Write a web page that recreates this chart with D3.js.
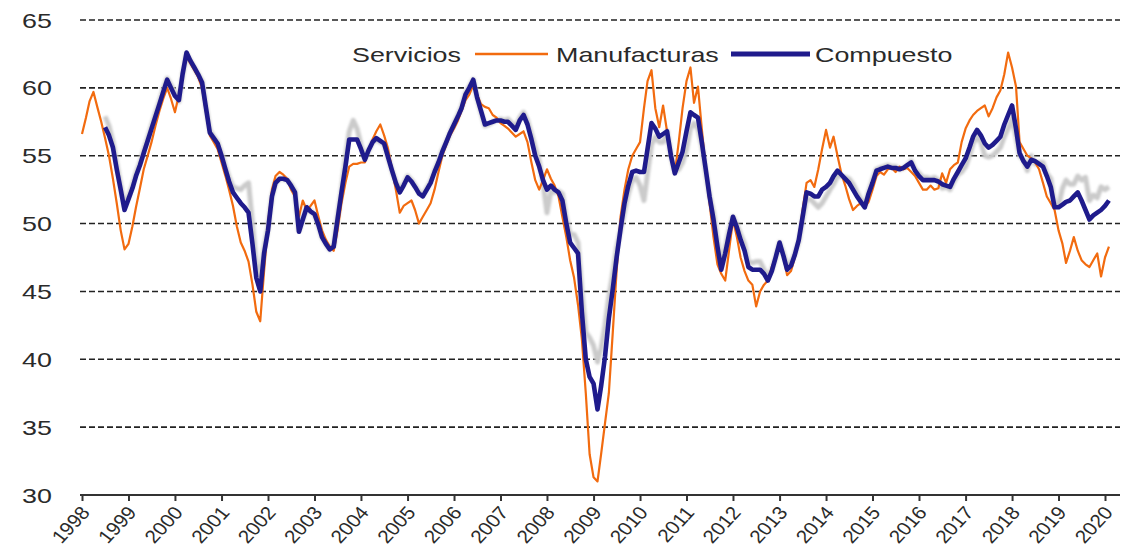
<!DOCTYPE html>
<html>
<head>
<meta charset="utf-8">
<script src="https://cdn.jsdelivr.net/npm/d3@7"></script>
<style>
  html, body { margin: 0; padding: 0; background: #ffffff; }
  svg { display: block; }
  text { font-family: "Liberation Sans", Arial, sans-serif; fill: #2a2a2a; }
</style>
</head>
<body>
<svg id="chart" width="1137" height="557"></svg>
<script>
// ---------------- DATA (monthly PMI readings) ----------------
const seriesNames = ["Servicios", "Manufacturas", "Compuesto"];
const yearLabels = ["1998","1999","2000","2001","2002","2003","2004","2005","2006","2007","2008",
  "2009","2010","2011","2012","2013","2014","2015","2016","2017","2018","2019","2020"];
const yTicks = [30, 35, 40, 45, 50, 55, 60, 65];

const manufacturasStart = "1998-01";
const manufacturas = [
  56.6, 57.8, 59.0, 59.7, 58.6, 57.5, 56.3, 55.0, 53.3, 51.5, 49.5, 48.1,
  48.5, 49.8, 51.2, 52.6, 54.0, 55.0, 56.0, 57.2, 58.3, 59.2, 60.0, 59.2,
  58.2, 59.5, 61.0, 62.3, 61.8, 61.3, 60.8, 60.0, 58.2, 56.5, 56.0, 55.5,
  54.5, 53.5, 52.5, 51.3, 49.8, 48.6, 48.0, 47.2, 45.5, 43.5, 42.8, 46.5,
  50.0, 52.5, 53.5, 53.8, 53.6, 53.3, 52.5, 52.0, 50.5, 51.7, 51.0, 51.3,
  51.7, 50.5, 49.5, 48.8, 48.3, 48.0, 49.5, 51.5, 53.0, 54.2, 54.4, 54.4,
  54.5, 54.5, 55.3, 56.2, 56.8, 57.3, 56.5, 55.5, 54.0, 52.5, 50.8, 51.3,
  51.5, 51.7, 51.0, 50.0, 50.5, 51.0, 51.5, 52.5, 53.8, 55.0, 55.8, 56.5,
  57.0, 57.6, 58.3, 59.1, 59.5, 60.2, 59.5, 58.8, 58.6, 58.5, 58.0, 57.8,
  57.4, 57.2, 57.0, 56.7, 56.4, 56.6, 56.8, 56.0, 54.5, 53.2, 52.5, 53.2,
  54.0, 53.3, 52.8, 52.0, 50.5, 49.0, 47.3, 46.0, 44.0, 41.5, 37.5, 33.0,
  31.3, 31.0, 33.0, 35.3, 37.5, 42.0, 46.5, 50.5, 52.5, 54.0, 55.0, 55.5,
  56.0, 58.5, 60.5, 61.3, 58.5, 57.1, 58.7, 56.8, 55.0, 53.7, 56.0, 58.5,
  60.5, 61.5, 58.9, 60.1, 57.0, 54.0, 51.5, 49.0, 47.0, 46.3, 45.8, 48.0,
  50.3, 49.0, 47.5, 46.5, 45.8, 45.5, 43.9, 45.0, 45.5, 45.8, 46.8, 47.5,
  48.5, 47.5, 46.2, 46.5, 47.5, 49.0, 51.0, 53.0, 53.2, 52.7, 54.0, 55.5,
  56.9, 55.6, 56.4, 55.0, 53.7, 52.8, 51.8, 51.0, 51.3, 51.5, 51.2, 51.6,
  52.5, 53.5, 53.8, 53.6, 54.0, 54.1, 53.8, 54.2, 54.0, 54.1, 53.8, 53.5,
  53.0, 52.5, 52.5, 52.8, 52.5, 52.6, 53.7, 53.0, 54.0, 54.3, 54.5, 56.0,
  57.0, 57.6, 58.0, 58.3, 58.5, 58.7, 57.9, 58.5, 59.3, 59.8, 61.0, 62.6,
  61.5, 60.1, 56.0, 55.5, 55.0, 54.8, 54.5, 54.0, 53.0, 52.0, 51.5, 51.0,
  49.5, 48.5, 47.1, 48.0, 49.0, 48.0, 47.3, 47.0, 46.8, 47.3, 47.8, 46.1,
  47.5, 48.3
];

const compuestoStart = "1998-07";
const compuesto = [
  57.1, 56.5, 55.6, 54.0, 52.5, 51.0,
  51.8, 52.6, 53.5, 54.3, 55.2, 56.1, 57.0, 57.9, 58.8, 59.7, 60.6, 60.0,
  59.4, 59.1, 61.0, 62.6, 62.0, 61.5, 61.0, 60.4, 58.5, 56.7, 56.3, 55.9,
  55.0, 54.0, 53.1, 52.3, 51.9, 51.5, 51.2, 50.8, 48.5, 46.0, 45.0, 47.8,
  49.5, 52.0, 53.0, 53.3, 53.3, 53.2, 52.8, 52.3, 49.4, 50.3, 51.2, 50.9,
  50.7, 49.9, 49.0, 48.5, 48.1, 48.3, 50.3, 52.3, 54.2, 56.2, 56.2, 56.2,
  55.5, 54.7, 55.4, 56.0, 56.3, 56.1, 55.9, 54.9, 53.9, 53.0, 52.3, 52.8,
  53.4, 53.1, 52.7, 52.2, 52.0, 52.5, 53.0, 53.8, 54.5, 55.3, 56.0, 56.7,
  57.3, 57.9, 58.5, 59.5, 60.0, 60.6, 59.3, 58.3, 57.3, 57.4, 57.5, 57.6,
  57.6, 57.5, 57.5, 57.2, 56.9, 57.6, 58.0, 57.3, 56.2, 55.0, 54.2, 53.2,
  52.5, 52.8, 52.5, 52.3, 51.7, 50.0, 48.6, 48.2, 47.8, 43.5, 40.0, 38.7,
  38.2, 36.3, 38.0, 40.2, 43.0, 45.2, 47.5, 49.6, 51.5, 52.8, 53.8, 53.9,
  53.8, 53.8, 55.5, 57.4, 57.0, 56.4, 56.6, 56.8, 55.0, 53.7, 54.5, 55.3,
  56.8, 58.2, 58.0, 57.8, 56.0, 54.0, 52.0, 50.3, 48.3, 46.6, 47.8, 49.2,
  50.5, 49.7, 48.8, 48.0, 46.8, 46.6, 46.6, 46.6, 46.3, 45.8, 46.5, 47.5,
  48.6, 47.6, 46.6, 46.9, 47.7, 48.8, 50.5, 52.3, 52.2, 52.0, 52.0, 52.5,
  52.7, 53.0, 53.5, 53.9, 53.6, 53.3, 53.0, 52.5, 52.0, 51.6, 51.2, 52.2,
  53.0, 53.9, 54.0, 54.1, 54.2, 54.1, 54.1, 54.0, 54.1, 54.3, 54.5, 53.9,
  53.5, 53.2, 53.2, 53.2, 53.2, 53.1, 52.9, 52.8, 52.7, 53.3, 53.8, 54.3,
  54.8, 55.6, 56.4, 56.9, 56.5, 55.9, 55.6, 55.8, 56.1, 56.4, 57.3, 58.0,
  58.7, 57.0, 55.2, 54.6, 54.2, 54.7, 54.6, 54.4, 54.2, 53.5, 52.7, 51.2,
  51.2, 51.4, 51.6, 51.7, 52.0, 52.3, 51.7, 51.0, 50.3, 50.6, 50.8, 51.0,
  51.3, 51.7
];

const serviciosStart = "1998-07";
const servicios = [
  57.9, 57.2, 56.0, 54.4, 52.8, 51.3,
  52.0, 52.8, 53.7, 54.5, 55.4, 56.3, 57.2, 58.1, 59.0, 59.9, 60.7, 60.2,
  59.7, 59.0, 60.9, 62.5, 62.0, 61.5, 61.0, 60.5, 58.6, 56.9, 56.4, 56.0,
  55.2, 54.2, 53.4, 52.7, 52.6, 52.5, 52.8, 53.0, 50.0, 47.0, 46.0, 48.2,
  49.7, 52.0, 53.0, 53.3, 53.3, 53.2, 52.9, 52.4, 49.5, 50.3, 51.2, 50.9,
  50.7, 49.9, 49.0, 48.5, 48.1, 48.4, 50.5, 52.5, 54.8, 56.8, 57.6, 57.0,
  55.8, 54.8, 55.4, 56.0, 56.2, 56.0, 55.9, 54.9, 53.9, 53.1, 52.5, 52.9,
  53.5, 53.2, 52.8, 52.3, 52.1, 52.6, 53.1, 53.9, 54.6, 55.4, 56.0, 56.7,
  57.4, 58.0, 58.6, 59.6, 60.1, 60.6, 59.3, 58.2, 57.2, 57.3, 57.5, 57.6,
  57.7, 57.6, 57.7, 57.4, 57.1, 57.8, 58.2, 57.6, 56.6, 55.6, 54.6, 53.0,
  50.8, 52.4, 52.3, 52.4, 52.2, 50.4, 49.2, 49.2, 48.6, 45.0, 42.0, 41.6,
  41.0, 39.8, 40.8, 42.5, 44.6, 46.3, 48.2, 49.5, 50.9, 52.2, 53.2, 53.4,
  52.8, 51.7, 53.7, 55.8, 56.4, 56.0, 56.0, 56.8, 55.0, 53.8, 54.0, 54.5,
  55.5, 57.0, 57.4, 57.0, 55.8, 53.8, 52.1, 50.8, 48.8, 46.8, 48.2, 49.5,
  50.5, 49.9, 49.2, 48.5, 47.2, 47.1, 47.2, 47.2, 46.6, 46.1, 46.6, 47.5,
  48.6, 47.8, 46.9, 47.1, 47.8, 48.7, 50.3, 51.8, 51.8, 51.5, 51.2, 51.5,
  52.0, 52.5, 52.9, 53.5, 53.5, 53.4, 53.3, 52.9, 52.3, 51.8, 51.3, 52.3,
  53.2, 54.0, 54.1, 54.2, 54.3, 54.2, 54.2, 54.0, 54.1, 54.3, 54.6, 54.0,
  53.7, 53.4, 53.4, 53.3, 53.4, 53.2, 52.6, 52.7, 52.5, 53.1, 53.6, 53.8,
  54.2, 55.0, 55.9, 56.4, 56.0, 55.0, 54.9, 55.0, 55.3, 55.6, 56.4, 57.0,
  57.8, 56.4, 55.0, 54.7, 53.9, 55.0, 54.4, 54.5, 54.5, 53.7, 53.3, 51.3,
  51.3, 52.6, 53.2, 52.9, 52.9, 53.5, 53.2, 53.4, 51.7, 52.1, 51.9, 52.7,
  52.5, 52.7
];

// ---------------- CHART ----------------
const SX = 1.28; // horizontal stretch of the original picture's text
const svg = d3.select("#chart");
const parseMonth = d3.timeParse("%Y-%m");

function toPoints(start, values) {
  const s = parseMonth(start);
  return values.map((v, i) => ({ date: d3.timeMonth.offset(s, i), value: v }));
}

const x = d3.scaleTime()
  .domain([parseMonth("1998-01"), parseMonth("2020-01")])
  .range([82, 1105]);
const y = d3.scaleLinear().domain([30, 65]).range([495, 20]);

const plotLeft = 80, plotRight = 1120;

// gridlines
svg.append("g")
  .selectAll("line")
  .data(yTicks.filter(t => t > 30))
  .join("line")
  .attr("x1", plotLeft).attr("x2", plotRight)
  .attr("y1", d => y(d)).attr("y2", d => y(d))
  .attr("stroke", "#222")
  .attr("stroke-width", 1.6)
  .attr("stroke-dasharray", "6,3");

// y labels
svg.append("g")
  .selectAll("text")
  .data(yTicks)
  .join("text")
  .attr("transform", d => `translate(52,${y(d) + 7.5}) scale(${SX},1)`)
  .attr("text-anchor", "end")
  .attr("font-size", 21)
  .text(d => d);

// x axis
const xAxis = d3.axisBottom(x)
  .tickValues(yearLabels.map(yr => parseMonth(yr + "-01")))
  .tickSize(6)
  .tickFormat("");
const gx = svg.append("g").attr("transform", `translate(0,${y(30)})`).call(xAxis);
gx.select(".domain").attr("d", `M${plotLeft},0H${plotRight}`).attr("stroke", "#333").attr("stroke-width", 2);
gx.selectAll(".tick line").attr("stroke", "#333").attr("stroke-width", 2);

svg.append("g")
  .selectAll("text")
  .data(yearLabels)
  .join("text")
  .attr("transform", yr => `translate(${x(parseMonth(yr + "-01")) + 9},${y(30) + 18}) scale(1.12,1) rotate(-50)`)
  .attr("text-anchor", "end")
  .attr("font-size", 18.5)
  .text(yr => yr);

// lines
const line = d3.line().x(d => x(d.date)).y(d => y(d.value)).curve(d3.curveLinear);

const defs = svg.append("defs");
defs.append("filter").attr("id", "soft")
  .append("feGaussianBlur").attr("stdDeviation", 0.9);

svg.append("path")
  .datum(toPoints(serviciosStart, servicios))
  .attr("d", line)
  .attr("fill", "none")
  .attr("stroke", "#cbcbcb")
  .attr("stroke-width", 5)
  .attr("stroke-linejoin", "round")
  .attr("filter", "url(#soft)");

svg.append("path")
  .datum(toPoints(manufacturasStart, manufacturas))
  .attr("d", line)
  .attr("fill", "none")
  .attr("stroke", "#f26b0f")
  .attr("stroke-width", 2.2)
  .attr("stroke-linejoin", "round");

svg.append("path")
  .datum(toPoints(compuestoStart, compuesto))
  .attr("d", line)
  .attr("fill", "none")
  .attr("stroke", "#1f1b8c")
  .attr("stroke-width", 4.6)
  .attr("stroke-linejoin", "round");

// legend
const legendItems = [
  { name: seriesNames[0], x1: 270, x2: 345, tx: 352, color: "#cbcbcb", w: 5, blur: true },
  { name: seriesNames[1], x1: 475, x2: 548, tx: 556, color: "#f26b0f", w: 2.4, blur: false },
  { name: seriesNames[2], x1: 731, x2: 810, tx: 815, color: "#1f1b8c", w: 4.8, blur: false }
];
const lg = svg.append("g");
legendItems.forEach(it => {
  lg.append("line")
    .attr("x1", it.x1).attr("x2", it.x2).attr("y1", 54).attr("y2", 54)
    .attr("stroke", it.color).attr("stroke-width", it.w)
    .attr("filter", it.blur ? "url(#soft)" : null);
  lg.append("text")
    .attr("transform", `translate(${it.tx},62) scale(${SX},1)`)
    .attr("font-size", 21)
    .text(it.name);
});
</script>
</body>
</html>
